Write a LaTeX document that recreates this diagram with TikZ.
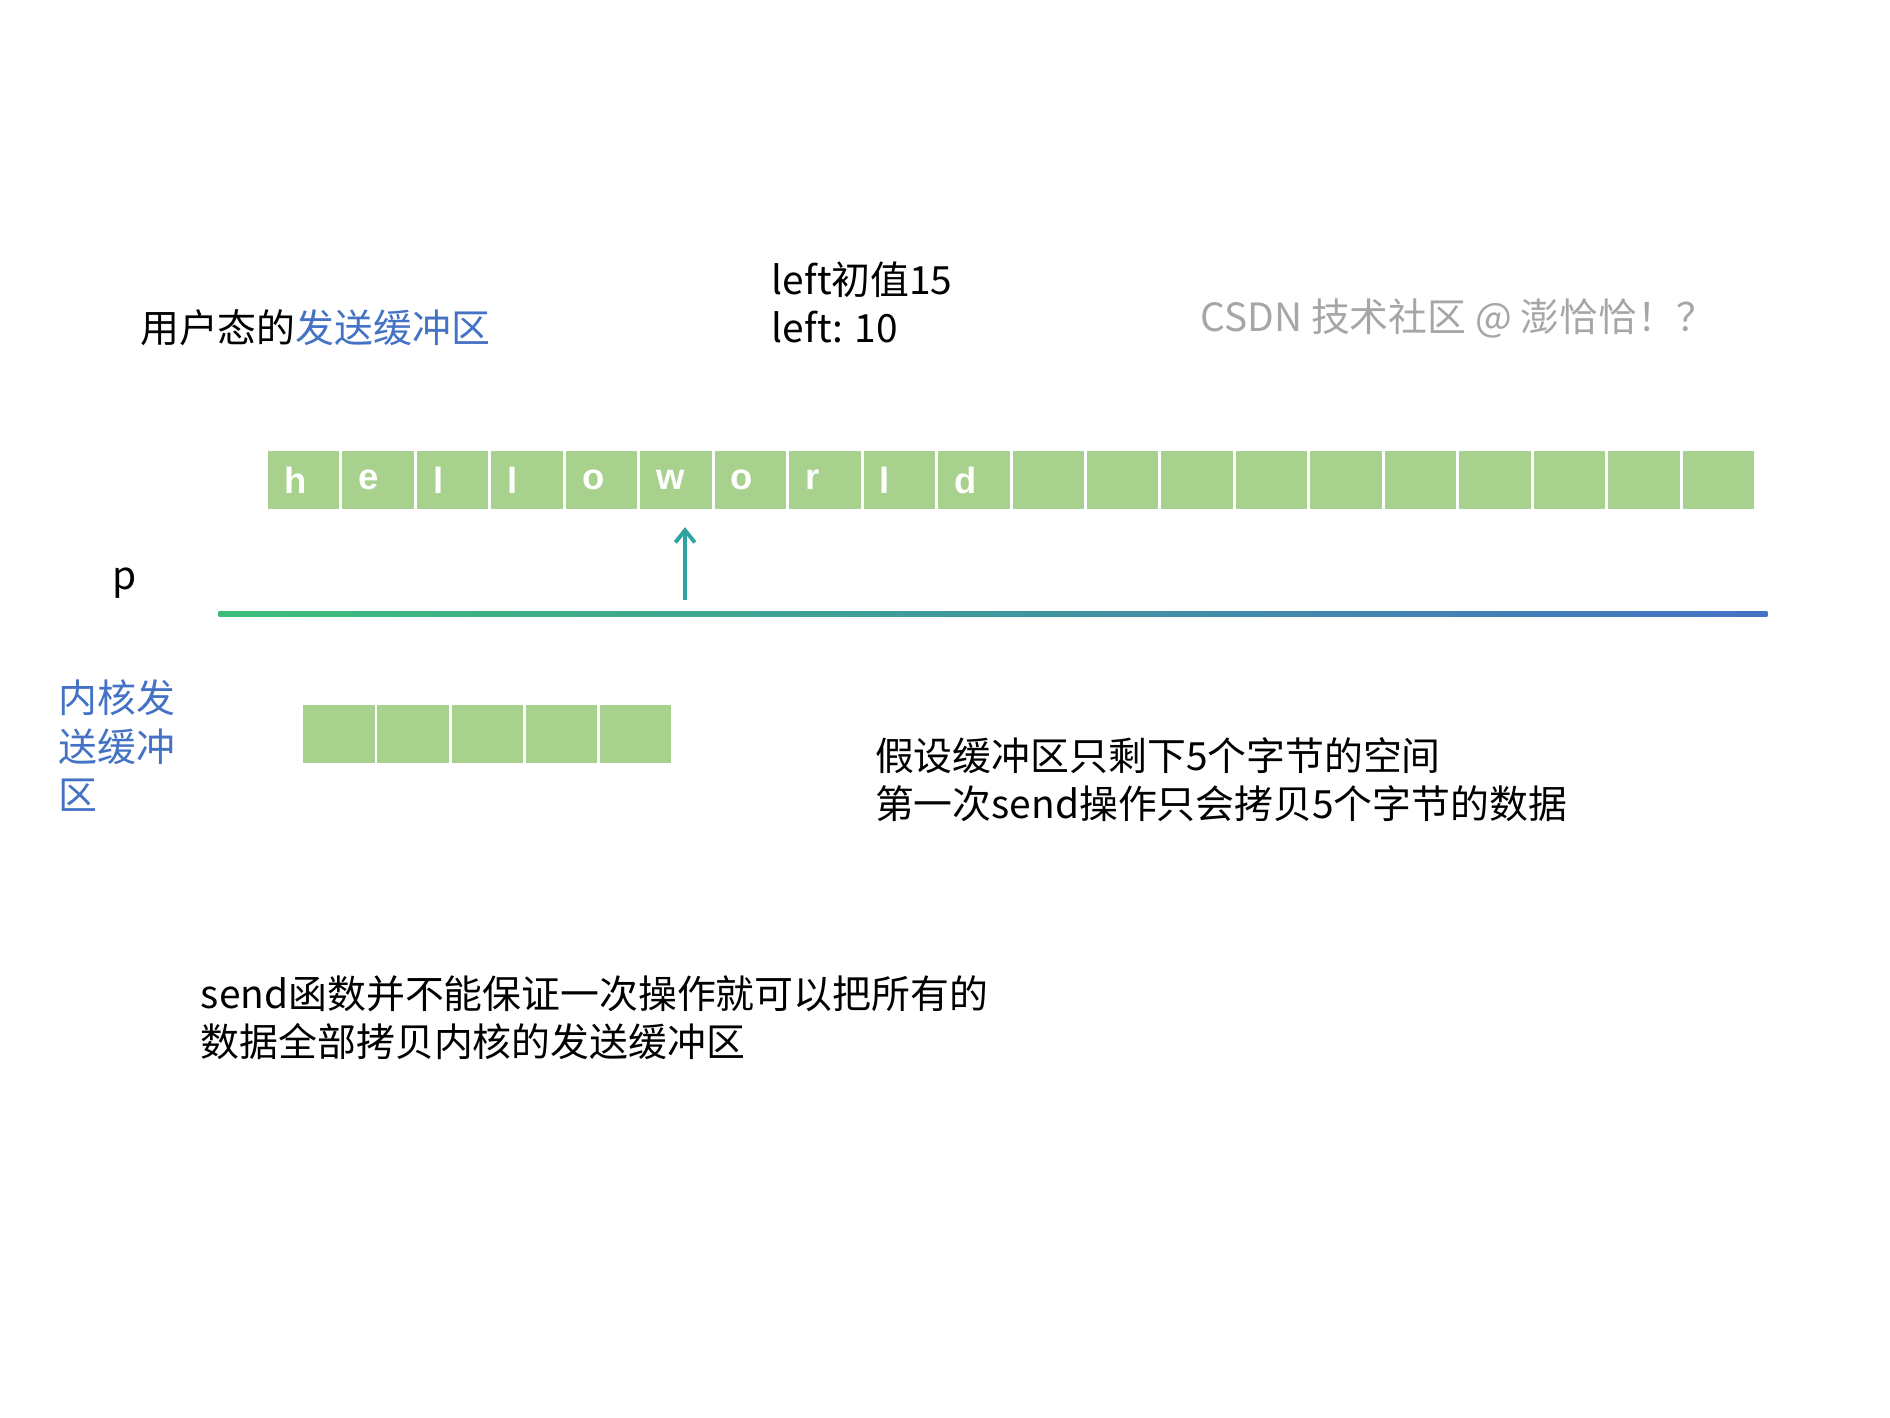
\documentclass[tikz,border=0pt]{standalone}
\usepackage{fontspec}
\setmainfont{Noto Sans CJK SC}
\newfontfamily\arialf{Liberation Sans}
\usetikzlibrary{arrows.meta}
\definecolor{cellg}{HTML}{A9D18E}
\definecolor{bluet}{HTML}{4472C4}
\definecolor{teal}{HTML}{2EA3A0}
\definecolor{lgreen}{HTML}{3CBE78}
\begin{document}
\begin{tikzpicture}[x=0.5pt,y=-0.5pt,
  cell/.style={fill=cellg,draw=white,line width=0.8pt,minimum width=30.2pt,minimum height=24.5pt,inner sep=0pt,anchor=north west,text=white,font=\arialf\fontsize{15}{15}\selectfont\bfseries},
  txt/.style={anchor=west,inner sep=0pt,font=\fontsize{16}{20}\selectfont,align=left}]
\useasboundingbox (0,0) rectangle (1556,1167);
\foreach \c [count=\i from 0] in {h,e,l,l,o,w,o,r,l,d,{},{},{},{},{},{},{},{},{},{}}
  \node[cell] (u\i) at ({219+\i*61.3},370) {\makebox[30pt][l]{\hspace*{7pt}\c}};
\foreach \i in {0,...,4}
  \node[cell] (k\i) at ({248+\i*61.1},579) {};
\shade[left color=lgreen, right color=bluet] (180,503.5) rectangle (1455,507.5);
\coordinate (pbot) at (564,494);
\coordinate (ptop) at (564,434);
\draw[teal,line width=1.6pt,-{Straight Barb[length=5pt,width=8pt]}] (pbot) -- (ptop);
\node[txt] (p) at (92,480) {p};
\node[txt] (t1) at (115,270) {用户态的\textcolor{bluet}{发送缓冲区}};
\node[txt] (t2) at (635,249) {left初值15\\left: 10};
\node[txt,text=gray!70] (wm) at (988,262) {CSDN 技术社区 @ 澎恰恰！？};
\node[txt,text=bluet] (t3) at (48,614) {内核发\\送缓冲\\区};
\node[txt] (t4) at (720,642) {假设缓冲区只剩下5个字节的空间\\第一次send操作只会拷贝5个字节的数据};
\node[txt] (t5) at (165,838) {send函数并不能保证一次操作就可以把所有的\\数据全部拷贝内核的发送缓冲区};
\end{tikzpicture}
\end{document}
